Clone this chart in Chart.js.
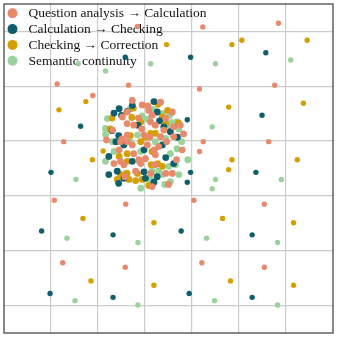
<!DOCTYPE html>
<html>
<head>
<meta charset="utf-8">
<script src="https://cdn.jsdelivr.net/npm/chart.js@4.4.0/dist/chart.umd.min.js"></script>
<style>
  body { margin: 0; background: #fff; }
</style>
</head>
<body>
<canvas id="grafico" width="337" height="337"></canvas>
<script>
const legendas = [
  'Question analysis \u2192 Calculation',
  'Calculation \u2192 Checking',
  'Checking \u2192 Correction',
  'Semantic continuity'
]
const cores = ['#e8896b', '#0e5e6b', '#d59f02', '#9bd29c']

const xTicks = [1, 2, 3, 4, 5, 6]
const yTicks = [0, 1, 2, 3, 4, 5]

// Question analysis -> Calculation
const questaoExterno = [
  [5.84, 5.15], [4.23, 5.08], [2.84, 5.09], [1.13, 4.04], [2.65, 4.02], [4.16, 3.95],
  [5.76, 4.02], [1.89, 3.83], [1.27, 2.99], [4.24, 2.99], [5.63, 2.99], [4.16, 2.81],
  [1.07, 1.92], [2.59, 1.85], [4.04, 1.92], [5.54, 1.85], [1.25, 0.78], [2.58, 0.70],
  [4.21, 0.78], [5.54, 0.70]
]
const questaoNucleo = [
  [2.73, 3.74], [2.94, 3.66], [3.33, 3.71], [2.62, 3.53], [2.52, 3.44], [3.15, 3.47],
  [3.58, 3.53], [3.75, 3.29], [2.76, 3.29], [2.62, 3.32], [3.12, 3.35], [3.22, 3.29],
  [3.40, 3.20], [2.98, 3.11], [2.62, 3.11], [2.48, 2.99], [2.73, 2.93], [3.05, 2.93],
  [3.29, 2.90], [3.61, 3.08], [3.79, 2.84], [2.45, 2.84], [2.76, 2.77], [3.22, 2.75],
  [2.34, 2.59], [2.48, 2.63], [3.01, 2.68], [3.22, 2.57], [2.80, 2.45], [3.12, 2.41],
  [3.44, 2.41], [3.58, 2.41], [3.61, 3.26], [2.87, 2.66], [3.15, 2.17], [2.62, 2.99],
  [2.31, 3.20], [2.86, 3.42], [3.46, 2.99], [3.67, 2.66], [3.33, 3.08], [2.91, 2.59],
  [3.08, 3.56], [3.44, 3.42], [2.57, 2.35], [2.18, 3.02], [3.50, 2.21],
  [2.93, 3.22], [2.51, 3.04], [3.06, 3.64], [3.10, 3.07], [3.82, 3.13], [2.55, 2.57],
  [3.20, 2.84]
]

// Calculation -> Checking
const calculoExterno = [
  [2.58, 4.53], [3.97, 4.53], [5.57, 4.61], [5.49, 3.47], [1.63, 3.27], [3.90, 3.39],
  [1.00, 2.43], [5.36, 2.43], [3.97, 2.43], [3.90, 2.25], [0.80, 1.36], [2.32, 1.29],
  [3.77, 1.36], [5.28, 1.29], [0.98, 0.22], [2.32, 0.15], [3.94, 0.22], [5.28, 0.15]
]
const calculoNucleo = [
  [3.19, 3.72], [2.45, 3.59], [2.34, 3.51], [2.50, 3.47], [2.73, 3.65], [3.26, 3.53],
  [2.85, 3.29], [3.40, 3.26], [3.54, 3.17], [2.38, 2.99], [2.55, 2.93], [3.37, 2.93],
  [2.23, 2.72], [2.98, 2.84], [3.44, 2.70], [2.73, 2.63], [2.41, 2.45], [2.98, 2.44],
  [2.55, 2.32], [3.01, 2.32], [3.26, 2.35], [3.19, 2.25], [3.61, 2.59], [2.62, 3.54],
  [2.30, 3.19], [2.44, 3.10], [3.31, 3.37], [3.69, 3.07], [2.23, 2.39], [2.44, 2.23]
]

// Checking -> Correction
const checagemExterno = [
  [5.06, 4.84], [4.85, 4.76], [6.45, 4.84], [3.46, 4.76], [1.74, 3.72], [6.37, 3.69],
  [4.78, 3.62], [1.17, 3.57], [2.11, 2.82], [1.88, 2.66], [4.85, 2.66], [6.24, 2.66],
  [4.78, 2.48], [1.68, 1.59], [3.19, 1.51], [4.65, 1.59], [6.16, 1.51], [1.85, 0.45],
  [3.19, 0.37], [4.82, 0.45], [6.16, 0.37]
]
const checagemNucleo = [
  [3.28, 3.67], [3.48, 3.56], [2.75, 3.60], [2.30, 3.42], [2.72, 3.43], [3.37, 3.44],
  [2.91, 3.35], [2.26, 3.22], [3.44, 3.32], [3.71, 3.33], [3.12, 3.14], [3.22, 3.14],
  [2.69, 3.10], [2.91, 2.99], [2.62, 2.77], [3.15, 2.81], [2.45, 2.72], [2.62, 2.63],
  [3.27, 2.59], [3.37, 2.54], [2.48, 2.39], [2.62, 2.41], [2.41, 2.30], [2.66, 2.30],
  [2.80, 2.28], [2.94, 2.30], [3.08, 2.19], [2.84, 2.41], [3.13, 2.57], [3.01, 3.07]
]

// Semantic continuity
const continuidadeExterno = [
  [1.58, 4.41], [3.12, 4.41], [4.50, 4.41], [6.10, 4.48], [2.16, 4.28], [4.43, 3.26],
  [1.53, 2.30], [4.50, 2.30], [5.90, 2.30], [4.43, 2.13], [1.34, 1.23], [2.85, 1.15],
  [4.31, 1.23], [5.82, 1.15], [1.51, 0.09], [2.85, 0.01], [4.48, 0.09], [5.82, 0.01]
]
const continuidadeNucleo = [
  [2.69, 3.59], [2.20, 3.41], [2.94, 3.46], [3.05, 3.40], [3.37, 3.50], [3.53, 3.47],
  [3.68, 3.35], [3.72, 3.22], [2.16, 3.23], [3.51, 3.26], [2.84, 3.11], [2.16, 3.12],
  [2.31, 2.99], [3.22, 2.99], [3.44, 3.05], [3.78, 2.99], [3.68, 2.86], [2.34, 2.81],
  [2.91, 2.81], [3.54, 2.77], [2.16, 2.63], [2.87, 2.63], [3.65, 2.57], [3.51, 2.54],
  [2.59, 2.41], [3.29, 2.45], [3.72, 2.39], [3.12, 2.30], [3.54, 2.26], [2.91, 2.14],
  [3.15, 2.45], [2.69, 2.98], [3.37, 2.39], [3.42, 2.21],
  [3.17, 3.58], [3.56, 3.34], [3.91, 2.66]
]

const externos = [questaoExterno, calculoExterno, checagemExterno, continuidadeExterno]
const nucleos = [questaoNucleo, calculoNucleo, checagemNucleo, continuidadeNucleo]

function paraPontos(lista) {
  return lista.map(p => ({ x: p[0], y: p[1] }))
}

function criarDataset(lista, i, raio) {
  return {
    label: legendas[i],
    data: paraPontos(lista),
    backgroundColor: cores[i],
    borderWidth: 0,
    pointRadius: raio
  }
}

const molduraELegenda = {
  id: 'molduraELegenda',
  beforeDraw(chart) {
    const ctx = chart.ctx
    ctx.save()
    ctx.fillStyle = '#ffffff'
    ctx.fillRect(0, 0, chart.width, chart.height)
    ctx.restore()
  },
  beforeDatasetsDraw(chart) {
    const ctx = chart.ctx
    ctx.save()
    ctx.font = '13.5px "Liberation Serif", serif'
    ctx.textBaseline = 'middle'
    legendas.forEach((texto, i) => {
      let y = 13.3 + i * 15.8
      ctx.fillStyle = cores[i]
      ctx.beginPath()
      ctx.arc(12.5, y, 5, 0, Math.PI * 2)
      ctx.fill()
      ctx.fillStyle = '#111111'
      ctx.fillText(texto, 28.5, y + 0.5)
    })
    ctx.restore()
  },
  afterDraw(chart) {
    const ctx = chart.ctx
    const area = chart.chartArea
    ctx.save()
    ctx.strokeStyle = '#3a3a3a'
    ctx.lineWidth = 1.2
    ctx.strokeRect(area.left, area.top, area.right - area.left, area.bottom - area.top)
    ctx.restore()
  }
}

const grafico = document.querySelector('#grafico')

new Chart(grafico, {
  type: 'scatter',
  data: {
    datasets: [
      ...externos.map((lista, i) => criarDataset(lista, i, 2.7)),
      ...nucleos.map((lista, i) => criarDataset(lista, i, 3.4))
    ]
  },
  options: {
    responsive: false,
    animation: false,
    layout: { padding: { left: 3, top: 2, right: 4, bottom: 4 } },
    plugins: { legend: { display: false }, tooltip: { enabled: false } },
    scales: {
      x: {
        type: 'linear', min: 0, max: 7,
        afterBuildTicks: (eixo) => { eixo.ticks = xTicks.map(v => ({ value: v })) },
        ticks: { display: false },
        grid: { color: '#cccccc', lineWidth: 1.2, drawTicks: false },
        border: { display: false }
      },
      y: {
        type: 'linear', min: -0.5, max: 5.5,
        afterBuildTicks: (eixo) => { eixo.ticks = yTicks.map(v => ({ value: v })) },
        ticks: { display: false },
        grid: { color: '#cccccc', lineWidth: 1.2, drawTicks: false },
        border: { display: false }
      }
    }
  },
  plugins: [molduraELegenda]
})
</script>
</body>
</html>
